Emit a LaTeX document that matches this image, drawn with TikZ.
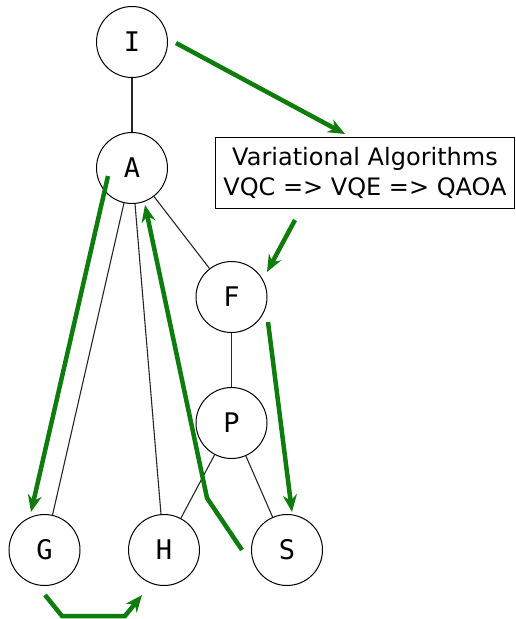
\documentclass[tikz,border=0pt]{standalone}
\usepackage{fontspec}
\setmainfont{DejaVu Sans}
\setmonofont{DejaVu Sans Mono}
\usetikzlibrary{arrows.meta}
\definecolor{pathgreen}{HTML}{0E7D0E}
\tikzset{
        topic/.style={circle, draw=black, line width=1pt, minimum size=71pt, inner sep=0pt,
                      font=\fontsize{27}{30}\selectfont\ttfamily},
        note/.style={draw=black, line width=1pt, minimum width=299pt, minimum height=71pt,
                     inner sep=0pt, align=center, font=\fontsize{24}{30}\selectfont},
        link/.style={line width=1.1pt, draw=black!85},
        route/.style={draw=pathgreen, line width=4.5pt, -{Stealth[length=17pt,width=14pt]}}
    }

\begin{document}
\begin{tikzpicture}[x=1pt, y=-1pt]
    \useasboundingbox (0,0) rectangle (516,619);
    \node[topic] (I) at (132,42) {I};
    \node[topic] (A) at (132,168) {A};
    \node[topic] (F) at (231.5,297) {F};
    \node[topic] (P) at (231.5,423) {P};
    \node[topic] (G) at (44.5,550) {G};
    \node[topic] (H) at (164,550) {H};
    \node[topic] (S) at (287,550) {S};
    \node[note] (algo) at (365,173) {Variational Algorithms\\VQC => VQE => QAOA};
    \draw[link] (I) -- (A);
    \draw[link] (A) -- (G);
    \draw[link] (A) -- (H);
    \draw[link] (A) -- (F);
    \draw[link] (F) -- (P);
    \draw[link] (P) -- (H);
    \draw[link] (P) -- (S);
    % walk through the topics
    \coordinate (i-out) at (176,43);
    \coordinate (algo-in) at (345,134);
    \coordinate (algo-out) at (295,220);
    \coordinate (f-in) at (267,272);
    \coordinate (f-out) at (268,322);
    \coordinate (s-in) at (292,512);
    \coordinate (s-out) at (242,550);
    \coordinate (s-bend) at (207,498);
    \coordinate (a-in) at (145,205);
    \coordinate (a-out) at (108,176);
    \coordinate (g-in) at (31,512);
    \coordinate (g-out) at (45,595);
    \coordinate (h-in) at (142,595);
    \draw[route] (i-out) -- (algo-in);
    \draw[route] (algo-out) -- (f-in);
    \draw[route] (f-out) -- (s-in);
    \draw[route] (s-out) -- (s-bend) -- (a-in);
    \draw[route] (a-out) -- (g-in);
    \draw[route] (g-out) -- (62,616) -- (125,616) -- (h-in);
\end{tikzpicture}
\end{document}
